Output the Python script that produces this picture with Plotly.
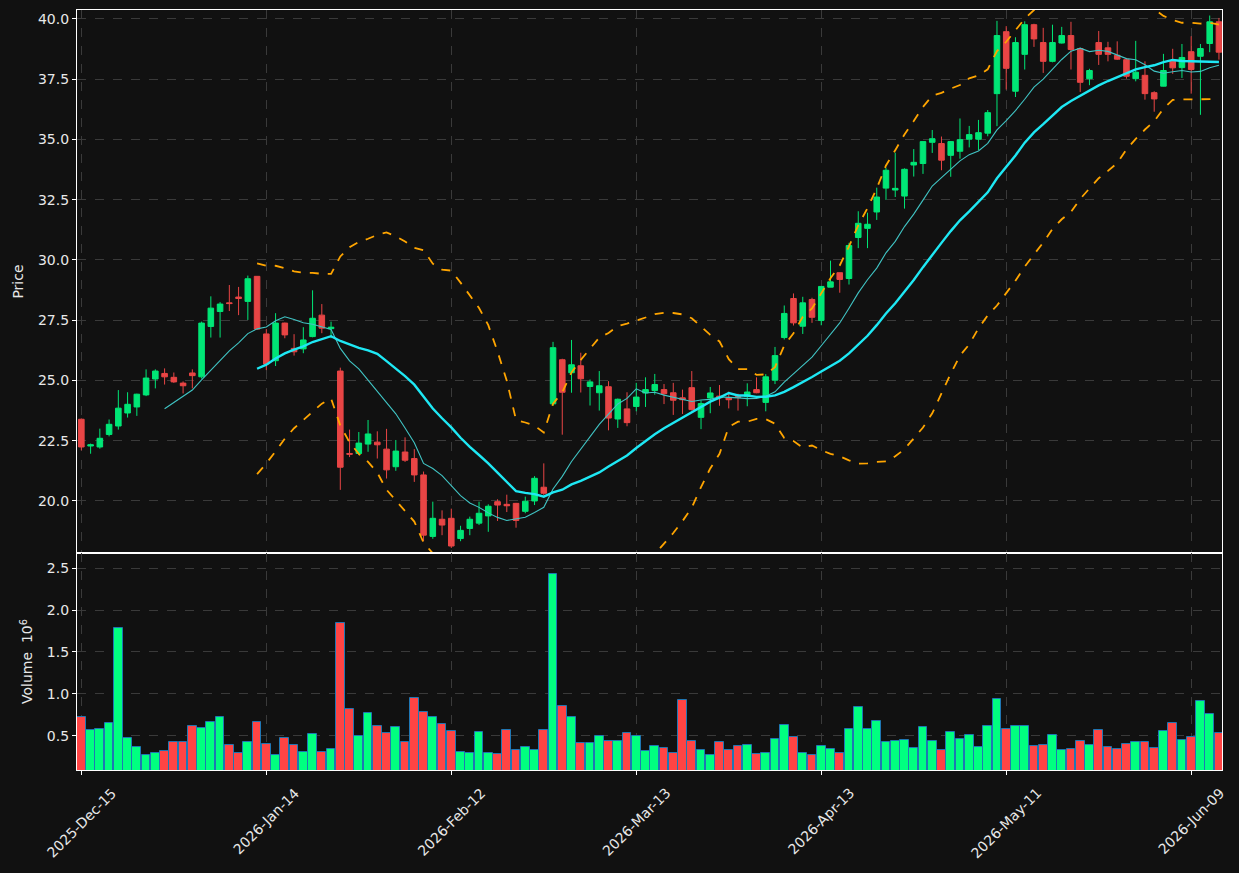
import pandas as pd
import plotly.graph_objects as go
from plotly.subplots import make_subplots

# ---- data ----
holidays = ["2025-12-25", "2026-01-01", "2026-01-19", "2026-02-16", "2026-04-03", "2026-05-25"]
dates = [d for d in pd.bdate_range("2025-12-15", "2026-06-12") if d.strftime("%Y-%m-%d") not in holidays]
date_keys = [d.strftime("%Y-%m-%d") for d in dates]
date_labels = [d.strftime("%Y-%b-%d") for d in dates]

opens = [23.39, 22.28, 22.24, 22.76, 23.11, 23.65, 23.90, 24.40, 25.06, 25.29,
         25.13, 24.89, 25.31, 25.15, 27.24, 27.86, 28.22, 28.46, 28.28, 29.32,
         26.93, 25.82, 27.38, 26.33, 26.31, 26.82, 27.71, 27.15, 25.39, 21.97,
         21.97, 22.36, 22.44, 22.15, 21.42, 22.03, 21.76, 21.08, 18.53, 19.24,
         19.28, 18.44, 18.86, 19.08, 19.38, 19.97, 19.86, 19.90, 19.57, 20.00,
         20.57, 24.03, 25.86, 25.32, 25.61, 24.75, 24.49, 24.74, 23.40, 23.82,
         23.92, 24.48, 24.58, 24.62, 24.49, 24.28, 24.70, 23.47, 24.27, 24.35,
         24.27, 24.33, 24.33, 24.62, 24.09, 25.01, 26.78, 28.40, 27.25, 28.36,
         27.49, 28.87, 29.47, 29.23, 30.93, 31.31, 31.99, 32.98, 32.90, 32.65,
         33.94, 34.00, 34.88, 34.83, 34.34, 34.51, 35.01, 35.01, 35.26, 36.90,
         39.47, 37.00, 38.53, 39.76, 39.02, 38.24, 39.00, 39.31, 38.77, 37.52,
         39.02, 38.80, 38.49, 38.31, 37.52, 37.66, 36.94, 37.21, 38.24, 37.98,
         38.64, 38.45, 38.98, 39.88]
highs = [23.42, 22.38, 23.00, 23.38, 24.60, 24.51, 24.45, 25.46, 25.46, 25.50,
         25.33, 24.96, 25.46, 27.44, 28.49, 28.25, 28.96, 28.88, 29.35, 29.33,
         27.13, 27.79, 27.40, 26.92, 27.21, 28.74, 28.17, 27.44, 25.53, 22.96,
         22.86, 23.36, 22.89, 22.99, 22.53, 22.64, 22.15, 21.22, 19.97, 19.61,
         19.68, 18.97, 19.35, 19.97, 19.86, 20.07, 20.26, 19.92, 20.18, 21.03,
         21.56, 26.60, 25.90, 26.68, 26.15, 25.04, 25.39, 24.97, 24.25, 24.51,
         24.90, 25.13, 25.27, 24.85, 24.90, 24.62, 25.39, 24.17, 24.73, 24.81,
         24.53, 24.45, 24.88, 25.13, 25.26, 26.39, 28.11, 28.61, 28.47, 28.43,
         28.91, 29.97, 29.47, 30.71, 32.02, 31.96, 33.00, 33.83, 34.45, 33.80,
         34.60, 34.91, 35.39, 35.12, 34.93, 35.87, 35.56, 35.81, 36.22, 39.92,
         39.70, 39.24, 39.90, 39.80, 39.63, 39.76, 39.67, 39.88, 38.80, 37.93,
         39.50, 39.05, 39.07, 38.38, 39.09, 38.24, 37.00, 38.55, 38.76, 38.96,
         39.28, 38.96, 40.14, 40.04]
lows = [22.10, 21.96, 22.17, 22.68, 22.96, 23.46, 23.53, 24.35, 24.67, 24.83,
        24.90, 24.46, 24.67, 25.08, 26.78, 26.78, 27.88, 27.71, 27.51, 27.10,
        25.43, 25.60, 26.75, 26.03, 26.13, 26.79, 26.96, 26.75, 20.46, 21.82,
        21.90, 22.04, 21.76, 20.93, 21.25, 21.62, 20.79, 18.33, 18.43, 18.58,
        18.05, 18.33, 18.58, 19.00, 18.72, 19.17, 19.54, 18.89, 19.49, 19.83,
        20.25, 23.95, 22.75, 24.49, 24.50, 23.96, 23.75, 22.93, 23.03, 23.10,
        23.72, 23.90, 24.41, 24.02, 23.57, 23.61, 23.75, 22.98, 23.64, 23.95,
        23.84, 23.75, 23.93, 24.47, 23.72, 24.85, 26.70, 27.28, 26.93, 27.39,
        27.29, 28.87, 28.64, 28.98, 30.49, 30.49, 31.66, 32.49, 32.61, 32.13,
        33.46, 33.57, 34.44, 33.72, 33.45, 34.20, 34.67, 34.56, 35.13, 35.55,
        37.07, 36.76, 37.90, 38.84, 37.76, 38.20, 38.98, 37.90, 36.97, 37.25,
        38.09, 38.24, 38.30, 37.52, 37.41, 36.65, 36.15, 37.20, 37.72, 37.55,
        36.90, 36.02, 38.62, 38.31]
closes = [22.24, 22.33, 22.60, 23.18, 23.85, 24.01, 24.43, 25.10, 25.39, 25.15,
          24.94, 24.78, 25.20, 27.38, 28.00, 28.17, 28.19, 28.40, 29.22, 27.13,
          25.68, 27.38, 26.89, 26.19, 26.68, 27.58, 27.17, 27.21, 21.40, 21.94,
          22.40, 22.78, 22.33, 21.29, 22.07, 21.69, 21.08, 18.58, 19.28, 19.00,
          18.13, 18.78, 19.24, 19.49, 19.78, 19.83, 19.80, 19.19, 19.99, 20.94,
          20.32, 26.36, 24.51, 25.65, 25.07, 24.94, 24.78, 23.44, 24.22, 23.25,
          24.31, 24.62, 24.83, 24.45, 24.18, 24.20, 23.79, 24.04, 24.48, 24.28,
          24.20, 24.30, 24.52, 24.49, 25.15, 26.03, 27.78, 27.39, 28.22, 27.62,
          28.90, 29.09, 29.19, 30.60, 31.52, 31.48, 32.61, 33.72, 32.97, 33.76,
          34.05, 34.91, 35.03, 34.14, 34.91, 34.99, 35.20, 35.28, 36.11, 39.31,
          37.95, 39.02, 39.76, 39.17, 38.24, 39.02, 39.31, 38.73, 37.37, 37.86,
          38.53, 38.53, 38.33, 37.62, 37.79, 36.90, 36.68, 37.86, 37.97, 38.40,
          37.90, 38.77, 39.88, 38.62]
volumes = [720000, 564000, 576000, 648000, 1783000, 468000, 361000, 265000, 289000, 317000,
           420000, 420000, 610000, 588000, 660000, 720000, 385000, 289000, 420000, 660000,
           397000, 265000, 468000, 385000, 300000, 520000, 300000, 340000, 1840000, 820000,
           500000, 770000, 620000, 530000, 600000, 420000, 950000, 780000, 720000, 640000,
           550000, 310000, 290000, 540000, 290000, 280000, 570000, 330000, 370000, 330000,
           570000, 2430000, 850000, 720000, 410000, 410000, 490000, 430000, 440000, 530000,
           490000, 320000, 380000, 350000, 290000, 930000, 430000, 330000, 270000, 420000,
           330000, 380000, 390000, 280000, 290000, 460000, 630000, 480000, 290000, 270000,
           380000, 340000, 290000, 580000, 840000, 580000, 670000, 420000, 440000, 450000,
           350000, 600000, 440000, 330000, 540000, 460000, 510000, 360000, 620000, 934000,
           576000, 610000, 610000, 373000, 385000, 504000, 325000, 340000, 432000, 385000,
           564000, 364000, 337000, 400000, 420000, 420000, 350000, 556000, 650000, 448000,
           480000, 910000, 760000, 530000]

tick_keys = date_keys[::20]
tick_text = date_labels[::20]

# ---- indicators ----
cl = pd.Series(closes)
ma10 = cl.rolling(10).mean()
ma20 = cl.rolling(20).mean()
sd20 = cl.rolling(20).std()
bb_up = ma20 + 2 * sd20
bb_lo = ma20 - 2 * sd20

UP = "#00e676"
DN = "#e84545"
VUP = "#00ff80"
VDN = "#ff4444"
BG = "#111111"
GRID = "#3a3a3a"
TXT = "#e8e8e8"

fig = make_subplots(rows=2, cols=1, shared_xaxes=False, vertical_spacing=0,
                    row_heights=[0.7145, 0.2855])

fig.add_trace(go.Candlestick(
    x=date_keys, open=opens, high=highs, low=lows, close=closes,
    increasing=dict(line=dict(color=UP, width=1), fillcolor=UP),
    decreasing=dict(line=dict(color=DN, width=1), fillcolor=DN),
    whiskerwidth=0, showlegend=False), row=1, col=1)

fig.add_trace(go.Scatter(x=date_keys, y=ma10, mode="lines",
                         line=dict(color="#40c4c4", width=1.1), showlegend=False), row=1, col=1)
fig.add_trace(go.Scatter(x=date_keys, y=ma20, mode="lines",
                         line=dict(color="#1ee8f4", width=2.4), showlegend=False), row=1, col=1)
fig.add_trace(go.Scatter(x=date_keys, y=bb_up, mode="lines",
                         line=dict(color="#ffa500", width=1.8, dash="dash"), showlegend=False), row=1, col=1)
fig.add_trace(go.Scatter(x=date_keys, y=bb_lo, mode="lines",
                         line=dict(color="#ffa500", width=1.8, dash="dash"), showlegend=False), row=1, col=1)

vcolors = [VUP if c >= o else VDN for o, c in zip(opens, closes)]
fig.add_trace(go.Bar(x=date_keys, y=[v / 1e6 for v in volumes], marker=dict(color=vcolors,
                     line=dict(color="#1f77b4", width=1)), width=0.95, showlegend=False), row=2, col=1)

xcommon = dict(type="category", range=[-0.47, 123.33], showline=True, linecolor="white",
               linewidth=1.2, mirror=True, showgrid=True, gridcolor=GRID, griddash="dash",
               gridwidth=0.8, ticks="outside", ticklen=4, tickcolor="white",
               tickmode="array", tickvals=tick_keys, ticktext=tick_text,
               showticklabels=False, tickfont=dict(color=TXT, size=14))
fig.update_xaxes(**xcommon)
fig.update_xaxes(rangeslider_visible=False, row=1, col=1)

# rotated date labels centred under their ticks
for k, t in zip(tick_keys, tick_text):
    fig.add_annotation(x=k, xref="x2", y=0, yref="paper", text=t, textangle=-45,
                       showarrow=False, xanchor="center", yanchor="top", yshift=-12,
                       font=dict(color=TXT, size=14, family="DejaVu Sans"))

ycommon = dict(showline=True, linecolor="white", linewidth=1.2, mirror=True, showgrid=True,
               gridcolor=GRID, griddash="dash", gridwidth=0.8, ticks="outside", ticklen=4,
               tickcolor="white", tickfont=dict(color=TXT, size=14), zeroline=False)
fig.update_yaxes(**ycommon)
fig.update_yaxes(range=[17.84, 40.37], tickvals=[20, 22.5, 25, 27.5, 30, 32.5, 35, 37.5, 40],
                 tickformat=".1f", title=dict(text="Price", font=dict(color=TXT, size=14), standoff=11),
                 row=1, col=1)
fig.update_yaxes(range=[0.0896, 2.682], tickvals=[0.5, 1.0, 1.5, 2.0, 2.5], tickformat=".1f",
                 title=dict(text="Volume  10<sup>6</sup>", font=dict(color=TXT, size=14), standoff=10),
                 row=2, col=1)

fig.update_layout(width=1239, height=873, paper_bgcolor=BG, plot_bgcolor=BG,
                  margin=dict(l=77, r=17, t=10, b=103), bargap=0, boxgap=0.14,
                  font=dict(family="DejaVu Sans", color=TXT, size=14))

fig.write_html("out.html")
